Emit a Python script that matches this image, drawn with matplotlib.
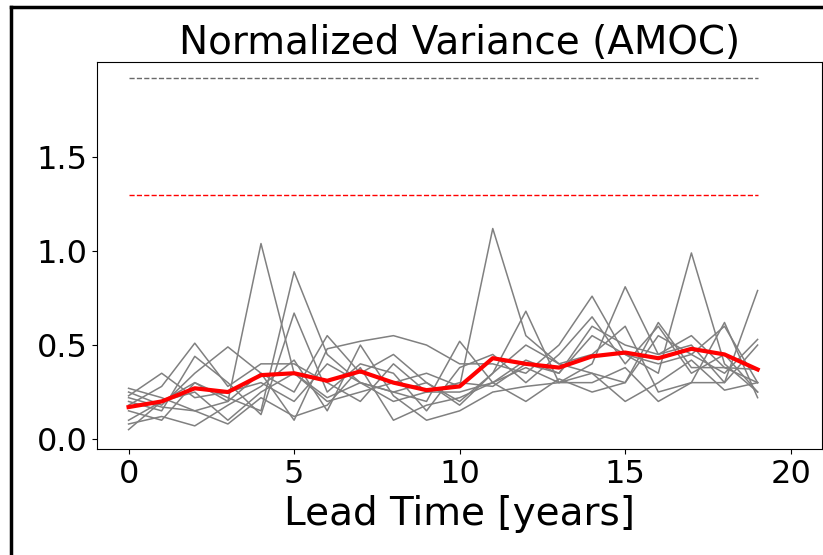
import matplotlib
matplotlib.use("Agg")
import matplotlib.pyplot as plt
from matplotlib.lines import Line2D

lead = list(range(20))

members = [
    [0.27,0.22,0.15,0.20,1.04,0.35,0.22,0.30,0.25,0.30,0.20,0.35,0.50,0.40,0.45,0.60,0.25,0.30,0.62,0.22],
    [0.10,0.20,0.30,0.22,0.15,0.89,0.45,0.30,0.20,0.25,0.30,0.28,0.40,0.35,0.60,0.50,0.45,0.55,0.38,0.37],
    [0.20,0.15,0.44,0.30,0.13,0.67,0.25,0.40,0.35,0.15,0.38,0.45,0.30,0.45,0.65,0.40,0.60,0.35,0.45,0.25],
    [0.05,0.20,0.25,0.10,0.25,0.35,0.20,0.25,0.30,0.35,0.28,1.12,0.55,0.40,0.35,0.30,0.55,0.45,0.60,0.30],
    [0.23,0.35,0.22,0.25,0.30,0.20,0.40,0.30,0.25,0.20,0.52,0.30,0.42,0.35,0.55,0.45,0.35,0.99,0.40,0.25],
    [0.15,0.10,0.30,0.20,0.35,0.25,0.55,0.35,0.45,0.30,0.18,0.35,0.68,0.30,0.40,0.81,0.45,0.50,0.30,0.79],
    [0.25,0.18,0.35,0.49,0.35,0.10,0.48,0.52,0.55,0.50,0.40,0.40,0.35,0.50,0.76,0.45,0.40,0.45,0.35,0.53],
    [0.18,0.28,0.51,0.28,0.40,0.40,0.30,0.20,0.40,0.25,0.25,0.30,0.38,0.30,0.35,0.20,0.30,0.42,0.26,0.30],
    [0.08,0.12,0.07,0.18,0.28,0.42,0.15,0.50,0.23,0.10,0.15,0.25,0.28,0.30,0.30,0.38,0.20,0.30,0.30,0.50],
    [0.22,0.17,0.15,0.08,0.22,0.12,0.18,0.38,0.10,0.18,0.22,0.30,0.20,0.32,0.25,0.30,0.62,0.38,0.38,0.30],
]

ens_mean = [0.17,0.20,0.27,0.25,0.34,0.35,0.31,0.36,0.30,0.26,0.28,0.43,0.40,0.38,0.44,0.46,0.43,0.48,0.45,0.37]

gray_ref = 1.92
red_ref = 1.30

fig = plt.figure(figsize=(8.23, 5.55), dpi=100)
ax = fig.add_axes([0.118, 0.191, 0.881, 0.697])

for m in members:
    ax.plot(lead, m, color="gray", lw=1.1)
ax.plot(lead, ens_mean, color="red", lw=3)
ax.plot([lead[0], lead[-1]], [gray_ref, gray_ref], color="dimgray", lw=1, ls="--")
ax.plot([lead[0], lead[-1]], [red_ref, red_ref], color="red", lw=1, ls="--")

ax.set_xlim(-0.95, 20.95)
ax.set_ylim(-0.053, 2.005)
ax.set_xticks([0, 5, 10, 15, 20])
ax.set_yticks([0.0, 0.5, 1.0, 1.5])
ax.tick_params(labelsize=23)
ax.set_title("Normalized Variance (AMOC)", fontsize=28)
ax.set_xlabel("Lead Time [years]", fontsize=28)

fig.add_artist(Line2D([0.013, 0.013], [0, 0.988], transform=fig.transFigure, color="black", lw=2.5))
fig.add_artist(Line2D([0.013, 1.0], [0.988, 0.988], transform=fig.transFigure, color="black", lw=2.5))

fig.savefig("out.png", dpi=100)
